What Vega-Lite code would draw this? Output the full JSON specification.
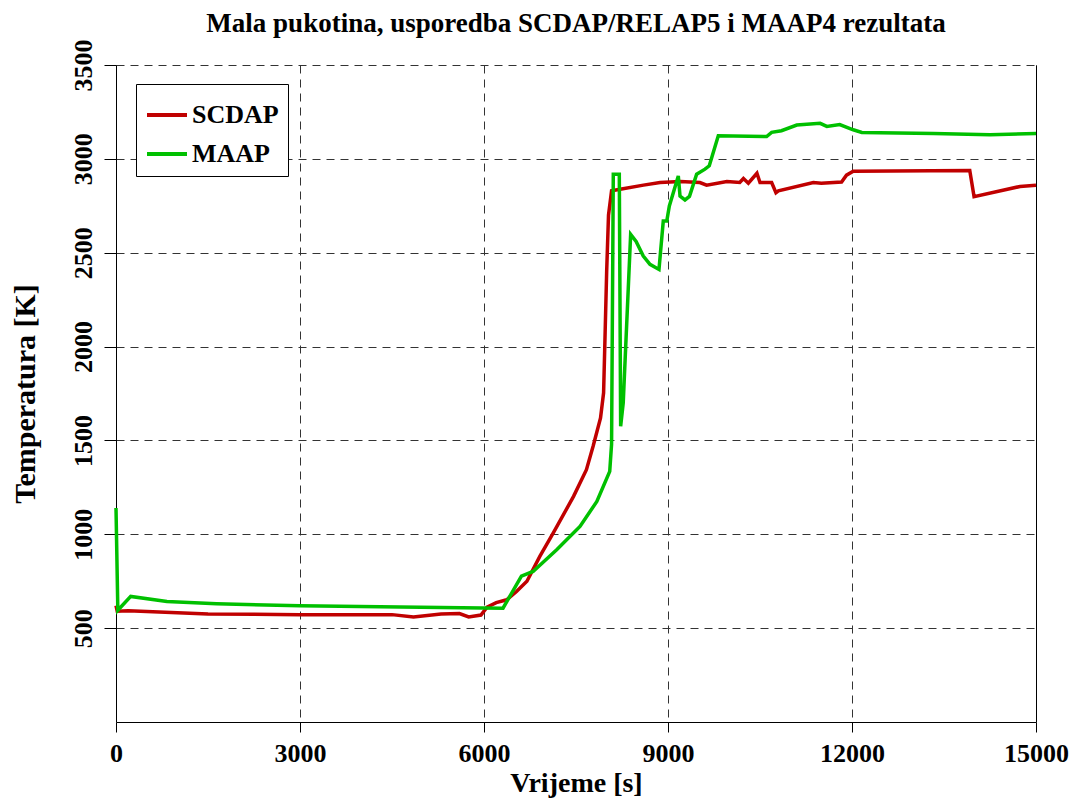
{
  "$schema": "https://vega.github.io/schema/vega-lite/v6.json",
  "width": 920,
  "height": 657,
  "autosize": {"type": "none"},
  "padding": {"left": 116, "top": 65, "right": 40, "bottom": 83},
  "background": "white",
  "config": {"font": "Liberation Serif", "view": {"stroke": null}},
  "title": {"text": "Mala pukotina, usporedba SCDAP/RELAP5 i MAAP4 rezultata", "fontSize": 27, "fontWeight": "bold", "font": "Liberation Serif", "anchor": "middle", "frame": "group", "offset": 1, "color": "black"},
  "data": {"values": [
    {"t": 0, "T": 620, "s": "SCDAP"}, {"t": 20, "T": 590, "s": "SCDAP"}, {"t": 200, "T": 592, "s": "SCDAP"}, {"t": 800, "T": 585, "s": "SCDAP"}, {"t": 1500, "T": 575, "s": "SCDAP"}, {"t": 3000, "T": 572, "s": "SCDAP"}, {"t": 4500, "T": 572, "s": "SCDAP"}, {"t": 4850, "T": 560, "s": "SCDAP"}, {"t": 5300, "T": 575, "s": "SCDAP"}, {"t": 5600, "T": 578, "s": "SCDAP"}, {"t": 5750, "T": 560, "s": "SCDAP"}, {"t": 5950, "T": 570, "s": "SCDAP"}, {"t": 6050, "T": 612, "s": "SCDAP"}, {"t": 6200, "T": 636, "s": "SCDAP"}, {"t": 6370, "T": 651, "s": "SCDAP"}, {"t": 6530, "T": 695, "s": "SCDAP"}, {"t": 6700, "T": 750, "s": "SCDAP"}, {"t": 6910, "T": 882, "s": "SCDAP"}, {"t": 7130, "T": 1007, "s": "SCDAP"}, {"t": 7460, "T": 1202, "s": "SCDAP"}, {"t": 7670, "T": 1344, "s": "SCDAP"}, {"t": 7780, "T": 1470, "s": "SCDAP"}, {"t": 7900, "T": 1620, "s": "SCDAP"}, {"t": 7950, "T": 1754, "s": "SCDAP"}, {"t": 7975, "T": 2075, "s": "SCDAP"}, {"t": 8000, "T": 2400, "s": "SCDAP"}, {"t": 8030, "T": 2700, "s": "SCDAP"}, {"t": 8080, "T": 2830, "s": "SCDAP"}, {"t": 8220, "T": 2838, "s": "SCDAP"}, {"t": 8600, "T": 2860, "s": "SCDAP"}, {"t": 8870, "T": 2874, "s": "SCDAP"}, {"t": 9200, "T": 2880, "s": "SCDAP"}, {"t": 9520, "T": 2874, "s": "SCDAP"}, {"t": 9630, "T": 2860, "s": "SCDAP"}, {"t": 9960, "T": 2879, "s": "SCDAP"}, {"t": 10170, "T": 2874, "s": "SCDAP"}, {"t": 10230, "T": 2895, "s": "SCDAP"}, {"t": 10310, "T": 2870, "s": "SCDAP"}, {"t": 10450, "T": 2923, "s": "SCDAP"}, {"t": 10500, "T": 2874, "s": "SCDAP"}, {"t": 10690, "T": 2874, "s": "SCDAP"}, {"t": 10760, "T": 2820, "s": "SCDAP"}, {"t": 10800, "T": 2830, "s": "SCDAP"}, {"t": 11370, "T": 2874, "s": "SCDAP"}, {"t": 11500, "T": 2870, "s": "SCDAP"}, {"t": 11830, "T": 2877, "s": "SCDAP"}, {"t": 11910, "T": 2913, "s": "SCDAP"}, {"t": 12020, "T": 2934, "s": "SCDAP"}, {"t": 13920, "T": 2938, "s": "SCDAP"}, {"t": 13990, "T": 2799, "s": "SCDAP"}, {"t": 14740, "T": 2853, "s": "SCDAP"}, {"t": 15000, "T": 2860, "s": "SCDAP"},
    {"t": 0, "T": 1140, "s": "MAAP"}, {"t": 30, "T": 595, "s": "MAAP"}, {"t": 240, "T": 669, "s": "MAAP"}, {"t": 830, "T": 642, "s": "MAAP"}, {"t": 1640, "T": 630, "s": "MAAP"}, {"t": 3000, "T": 619, "s": "MAAP"}, {"t": 4630, "T": 613, "s": "MAAP"}, {"t": 6310, "T": 606, "s": "MAAP"}, {"t": 6610, "T": 777, "s": "MAAP"}, {"t": 6800, "T": 802, "s": "MAAP"}, {"t": 7185, "T": 918, "s": "MAAP"}, {"t": 7565, "T": 1042, "s": "MAAP"}, {"t": 7840, "T": 1175, "s": "MAAP"}, {"t": 8050, "T": 1335, "s": "MAAP"}, {"t": 8080, "T": 1480, "s": "MAAP"}, {"t": 8108, "T": 2918, "s": "MAAP"}, {"t": 8206, "T": 2918, "s": "MAAP"}, {"t": 8228, "T": 1575, "s": "MAAP"}, {"t": 8270, "T": 1700, "s": "MAAP"}, {"t": 8391, "T": 2598, "s": "MAAP"}, {"t": 8480, "T": 2560, "s": "MAAP"}, {"t": 8597, "T": 2482, "s": "MAAP"}, {"t": 8706, "T": 2438, "s": "MAAP"}, {"t": 8853, "T": 2411, "s": "MAAP"}, {"t": 8923, "T": 2669, "s": "MAAP"}, {"t": 8980, "T": 2669, "s": "MAAP"}, {"t": 9022, "T": 2749, "s": "MAAP"}, {"t": 9168, "T": 2909, "s": "MAAP"}, {"t": 9196, "T": 2802, "s": "MAAP"}, {"t": 9277, "T": 2781, "s": "MAAP"}, {"t": 9350, "T": 2800, "s": "MAAP"}, {"t": 9467, "T": 2918, "s": "MAAP"}, {"t": 9603, "T": 2945, "s": "MAAP"}, {"t": 9673, "T": 2963, "s": "MAAP"}, {"t": 9820, "T": 3123, "s": "MAAP"}, {"t": 10608, "T": 3119, "s": "MAAP"}, {"t": 10690, "T": 3141, "s": "MAAP"}, {"t": 10850, "T": 3150, "s": "MAAP"}, {"t": 11100, "T": 3180, "s": "MAAP"}, {"t": 11480, "T": 3189, "s": "MAAP"}, {"t": 11590, "T": 3173, "s": "MAAP"}, {"t": 11800, "T": 3183, "s": "MAAP"}, {"t": 12020, "T": 3155, "s": "MAAP"}, {"t": 12160, "T": 3141, "s": "MAAP"}, {"t": 13330, "T": 3135, "s": "MAAP"}, {"t": 14250, "T": 3129, "s": "MAAP"}, {"t": 15000, "T": 3135, "s": "MAAP"}
  ]},
  "layer": [
    {
      "mark": {"type": "line", "strokeWidth": 3.5},
      "encoding": {
        "x": {"field": "t", "type": "quantitative", "scale": {"domain": [0, 15000], "nice": false},
          "axis": {"values": [0, 3000, 6000, 9000, 12000, 15000], "format": "d", "title": "Vrijeme [s]", "titleFontSize": 28, "titleFontWeight": "bold", "titleColor": "black", "titlePadding": 3, "labelFontSize": 26, "labelFontWeight": "bold", "labelColor": "black", "labelPadding": 8, "labelFlush": false, "tickSize": 10, "tickColor": "black", "domainColor": "black", "gridColor": "#333333", "gridDash": [8, 6], "gridOpacity": 1}},
        "y": {"field": "T", "type": "quantitative", "scale": {"domain": [0, 3500], "nice": false},
          "axis": {"values": [500, 1000, 1500, 2000, 2500, 3000, 3500], "format": "d", "title": "Temperatura [K]", "titleFontSize": 30, "titleFontWeight": "bold", "titleColor": "black", "titlePadding": 30, "labelFontSize": 26, "labelFontWeight": "bold", "labelColor": "black", "labelAngle": 270, "labelAlign": "center", "labelBaseline": "bottom", "labelPadding": 8, "tickSize": 12, "tickColor": "black", "domainColor": "black", "gridColor": "#333333", "gridDash": [8, 6], "gridOpacity": 1}},
        "color": {"field": "s", "type": "nominal", "scale": {"domain": ["SCDAP", "MAAP"], "range": ["#c00000", "#00c000"]},
          "legend": {"title": null, "orient": "none", "legendX": 20, "legendY": 19, "symbolType": "stroke", "symbolSize": 1600, "symbolStrokeWidth": 4, "labelFontSize": 26, "labelFont": "Liberation Serif", "labelFontWeight": "bold", "labelColor": "black", "strokeColor": "black", "fillColor": "white", "padding": 9, "rowPadding": 4, "labelOffset": 3, "labelLimit": 300}}
      }
    },
    {
      "mark": {"type": "line", "opacity": 0},
      "encoding": {
        "x": {"field": "t", "type": "quantitative"},
        "y": {"field": "T", "type": "quantitative", "axis": {"orient": "right", "labels": false, "ticks": false, "grid": false, "title": null, "domainColor": "black"}},
        "detail": {"field": "s"}
      }
    }
  ],
  "resolve": {"axis": {"y": "independent"}}
}
